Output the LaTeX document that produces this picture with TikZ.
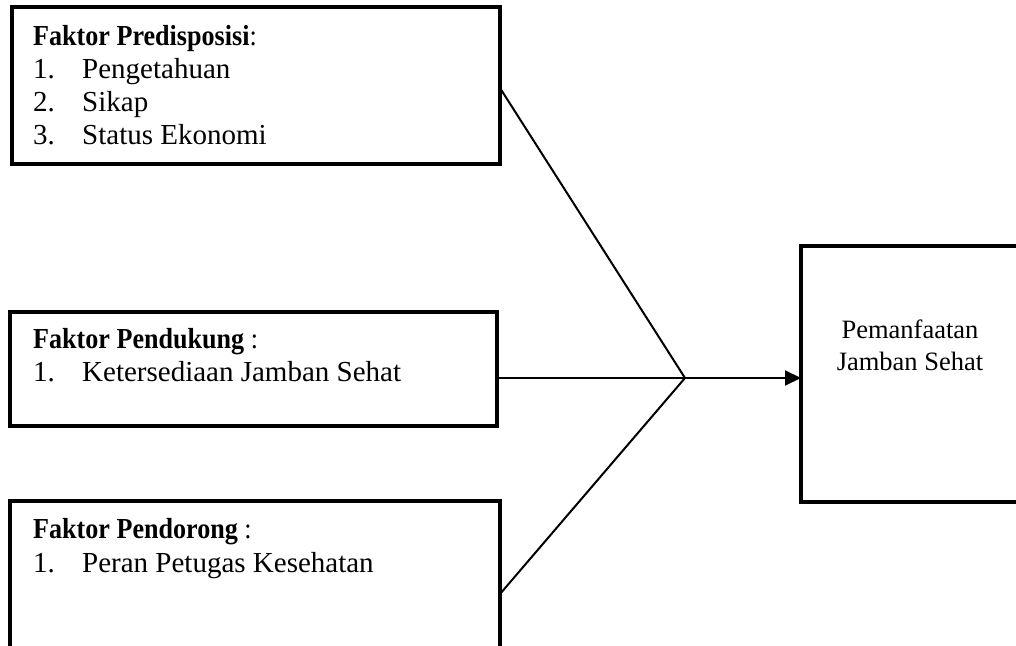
\documentclass[tikz,border=0pt]{standalone}
\usepackage{fontspec}
\setmainfont{Liberation Serif}
\usetikzlibrary{arrows.meta}
\newcommand{\headtxt}[1]{\scalebox{0.9}[1]{#1}}
\begin{document}
\begin{tikzpicture}[x=1pt,y=1pt,
  boxstyle/.style={draw=black,line width=3.3pt,rectangle,inner sep=0pt,outer sep=0pt},
  lefttext/.style={anchor=base west,inner sep=0pt,font=\fontsize{29}{33.4}\selectfont},
  headtext/.style={anchor=base west,inner sep=0pt,font=\fontsize{29}{33.4}\selectfont},
  righttext/.style={anchor=base,inner sep=0pt,font=\fontsize{26.5}{31}\selectfont},
  conn/.style={line width=2pt,line cap=round,line join=miter}]
\useasboundingbox (0,0) rectangle (1016,645);
\clip (0,0) rectangle (1016,645);
% boxes
\node[boxstyle,minimum width=488pt,minimum height=157pt] (b1) at (256,559.5) {};
\node[boxstyle,minimum width=487pt,minimum height=114pt] (b2) at (253.5,276) {};
\node[boxstyle,minimum width=490pt,minimum height=179pt] (b3) at (255,54.5) {};
\node[boxstyle,minimum width=221pt,minimum height=256pt] (b4) at (911.5,271) {};
% box 1 text
\node[headtext] (h1) at (33,599) {\headtxt{\textbf{Faktor Predisposisi}:}};
\node[lefttext] (n11) at (33,566) {1.};
\node[lefttext] (t11) at (82,566) {Pengetahuan};
\node[lefttext] (n12) at (33,533) {2.};
\node[lefttext] (t12) at (82,533) {Sikap};
\node[lefttext] (n13) at (33,500) {3.};
\node[lefttext] (t13) at (82,500) {Status Ekonomi};
% box 2 text
\node[headtext] (h2) at (33,296) {\headtxt{\textbf{Faktor Pendukung} :}};
\node[lefttext] (n21) at (33,263) {1.};
\node[lefttext] (t21) at (82,263) {Ketersediaan Jamban Sehat};
% box 3 text
\node[headtext] (h3) at (33,106.5) {\headtxt{\textbf{Faktor Pendorong} :}};
\node[lefttext] (n31) at (33,73) {1.};
\node[lefttext] (t31) at (82,73) {Peran Petugas Kesehatan};
% right box text
\node[righttext] (r1) at (910,306) {Pemanfaatan};
\node[righttext] (r2) at (910,274) {Jamban Sehat};
% connectors
\coordinate (j) at (685,267);
\coordinate (s1) at (b1.east |- 0,557);
\coordinate (s2) at (b2.east |- j);
\coordinate (s3) at (b3.east |- 0,51);
\coordinate (e4) at (b4.west |- j);
\draw[conn] (s1) -- (j);
\draw[conn] (s2) -- (j);
\draw[conn] (s3) -- (j);
\draw[conn,-{Triangle[length=16pt,width=15pt]}] (j) -- (e4);
\end{tikzpicture}
\end{document}
